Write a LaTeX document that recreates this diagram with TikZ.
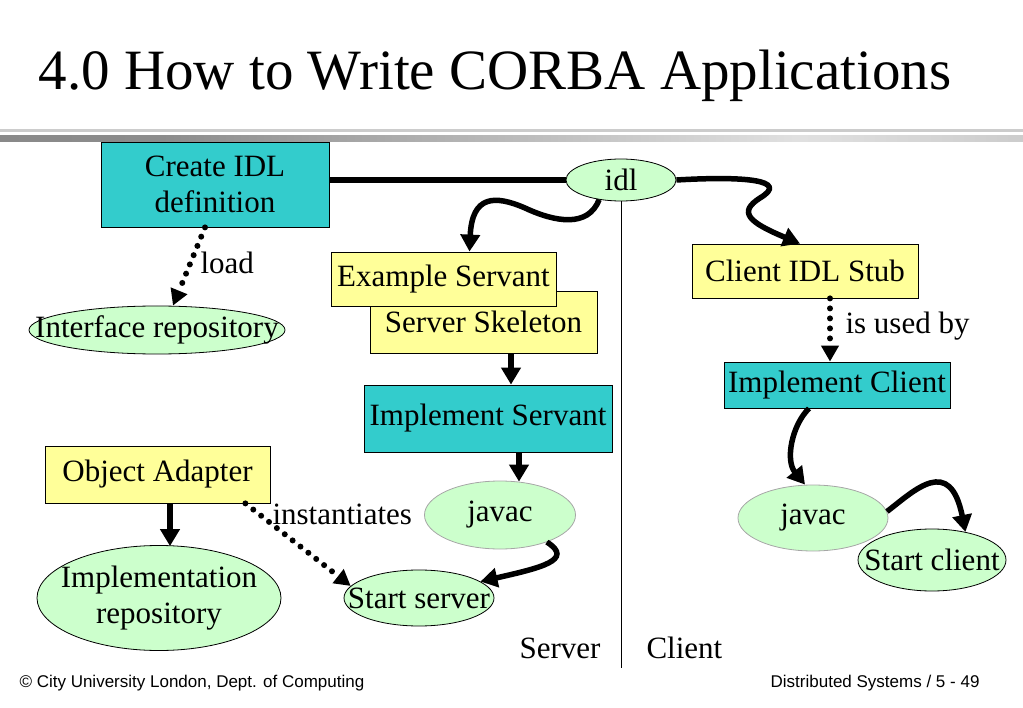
\documentclass[tikz,border=0pt]{standalone}
\usepackage{fontspec}
\setmainfont{Liberation Serif}
\newfontfamily\footfont{Liberation Sans}
\usetikzlibrary{positioning, calc, arrows.meta, shapes.geometric}
\definecolor{idlcyan}{HTML}{33CCCC}
\definecolor{stubyellow}{HTML}{FFFF99}
\definecolor{ovalgreen}{HTML}{CCFFCC}
\pgfdeclarehorizontalshading{rulegrey}{100bp}{color(0bp)=(black!50); color(33bp)=(black!45); color(64bp)=(black!12); color(100bp)=(black!38)}
\tikzset{
  stepbox/.style={draw=black, line width=0.8pt, minimum width=#1, inner sep=0pt},
  oval/.style={ellipse, draw=black, line width=0.8pt, fill=ovalgreen, inner sep=0pt},
  flow/.style={line width=5.5pt, -{Triangle[length=17pt,width=19pt]}},
  dots/.style={line width=6pt, line cap=round, dash pattern=on 0pt off 10pt, -{Triangle[length=16pt,width=17pt]}},
}

\begin{document}
\begin{tikzpicture}[x=1pt, y=-1pt, every node/.style={font=\fontsize{31}{36}\selectfont}]
      \useasboundingbox (0,0) rectangle (1023,708);
      % title and rule
      \node[font=\fontsize{57}{60}\selectfont, anchor=base] (title) at (495,90) {4.0 How to Write CORBA Applications};
      \fill[black!20] (0,129) rectangle (1023,132);
      \shade[shading=rulegrey] (0,136) rectangle (1023,142);
      % server side
      \node[stepbox=228pt, minimum height=85pt, fill=idlcyan, align=center] (create) at (215,184.5) {Create IDL\\definition};
      \node[oval, minimum width=110pt, minimum height=42pt] (idl) at (621,180) {idl};
      \node[oval, minimum width=256pt, minimum height=48pt, label=center:Interface repository] (iface) at (157,330) {};
      \node[stepbox=227pt, minimum height=62pt, fill=stubyellow] (skeleton) at (483.5,322) {Server Skeleton};
      \node[stepbox=225pt, minimum height=54pt, fill=stubyellow] (servant) at (443.5,279) {Example Servant};
      \node[stepbox=248pt, minimum height=67pt, fill=idlcyan] (iservant) at (488,418.5) {Implement Servant};
      \node[oval, draw=black!35, minimum width=151pt, minimum height=68pt, label=center:javac] (javacs) at (500,515) {};
      \node[oval, minimum width=150pt, minimum height=56pt, label=center:Start server] (startsrv) at (419,598) {};
      \node[stepbox=225pt, minimum height=57pt, fill=stubyellow] (adapter) at (157.5,474.5) {Object Adapter};
      \node[oval, minimum width=244pt, minimum height=105pt, label={[align=center]center:Implementation\\repository}] (implrepo) at (159,598) {};
      % client side
      \node[stepbox=226pt, minimum height=54pt, fill=stubyellow] (stub) at (805,271) {Client IDL Stub};
      \node[stepbox=226pt, minimum height=46pt, fill=idlcyan] (iclient) at (837,385) {Implement Client};
      \node[oval, draw=black!35, minimum width=150pt, minimum height=66pt, label=center:javac] (javacc) at (813,518) {};
      \node[oval, minimum width=148pt, minimum height=62pt, label=center:Start client] (startcli) at (932,560) {};
      % divider
      \coordinate (divend) at (621,668);
      \draw[line width=0.8pt] (idl.south) -- (divend);
      \node[anchor=east] (srvlabel) at (604,648) {Server};
      \node[anchor=west] (clilabel) at (643,648) {Client};
      % connectors
      \draw[line width=6pt] (create.east |- idl.west) -- (idl.west);
      \draw[flow] (idl.222) .. controls (588,228) and (555,222) .. (525,208)
                  .. controls (495,195) and (472,195) .. ($(servant.north)+(26,0)$);
      \draw[flow] (idl.east) .. controls (745,176) and (790,180) .. (760,198)
                  .. controls (738,212) and (748,222) .. ($(stub.north)+(-5,0)$);
      \draw[dots] ($(create.south)+(-10,0)$) -- ($(iface.north)+(16,0)$);
      \draw[dots] ($(stub.south)+(25,0)$) -- ($(iclient.north)+(-7,0)$);
      \draw[flow] ($(skeleton.south)+(27.5,0)$) -- ($(iservant.north)+(23,0)$);
      \draw[flow] ($(iservant.south)+(31,0)$) -- ($(javacs.north)+(19,1)$);
      \draw[flow] (javacs.-30) .. controls (575,560) and (540,568) .. (startsrv.15);
      \draw[flow] ($(adapter.south)+(12.5,0)$) -- ($(implrepo.north)+(11,1)$);
      \draw[dots] ($(adapter.south east)+(-25,0)$) -- (startsrv.170);
      \draw[flow] ($(iclient.south)+(-28,0)$) .. controls (792,425) and (785,460) .. ($(javacc.north)+(-8,0)$);
      \draw[flow] (javacc.5) .. controls (915,490) and (950,455) .. (startcli.40);
      % edge labels
      \node[anchor=west] (loadlbl) at (197,263) {load};
      \node[anchor=west] (usedlbl) at (842,326) {is used by};
      \node[anchor=west] (instlbl) at (269,514) {instantiates};
      % footer
      \node[anchor=west, font=\footfont\fontsize{17}{20}\selectfont] (footl) at (16,683) {© City University London, Dept. of Computing};
      \node[anchor=east, font=\footfont\fontsize{17}{20}\selectfont] (footr) at (983,683) {Distributed Systems / 5 - 49};
\end{tikzpicture}
\end{document}
